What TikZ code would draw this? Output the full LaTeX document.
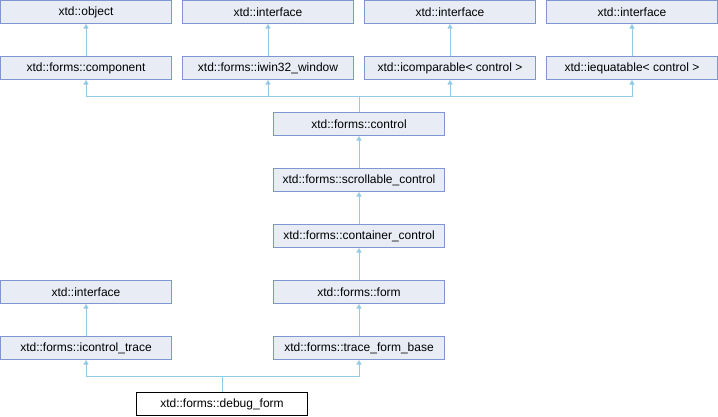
\documentclass[tikz,border=0pt]{standalone}
\usepackage{fontspec}
\setmainfont{Liberation Sans}
\usetikzlibrary{arrows.meta}
\definecolor{boxfill}{RGB}{232,236,245}
\definecolor{boxline}{RGB}{128,150,208}
\definecolor{linkcol}{RGB}{145,203,232}
\tikzset{
  cls/.style={draw=boxline, fill=boxfill, line width=1pt, minimum width=171pt, minimum height=23pt, inner sep=0pt, font=\fontsize{12}{14}\selectfont},
  curcls/.style={cls, draw=black, fill=white},
  link/.style={draw=linkcol, line width=1pt, -{Triangle[width=5pt,length=4.5pt]}},
}
\begin{document}
\begin{tikzpicture}[x=1pt,y=1pt]
\useasboundingbox (0,0) rectangle (718,-416);
% row 1
\node[cls] (obj)  at (86,-12)  {xtd::object};
\node[cls] (if1)  at (268,-12) {xtd::interface};
\node[cls] (if2)  at (450,-12) {xtd::interface};
\node[cls] (if3)  at (632,-12) {xtd::interface};
% row 2
\node[cls] (comp) at (86,-68)  {xtd::forms::component};
\node[cls] (iwin) at (268,-68) {xtd::forms::iwin32\_window};
\node[cls] (icmp) at (450,-68) {xtd::icomparable< control >};
\node[cls] (ieq)  at (632,-68) {xtd::iequatable< control >};
% chain
\node[cls] (ctrl) at (359,-124) {xtd::forms::control};
\node[cls] (scrl) at (359,-180) {xtd::forms::scrollable\_control};
\node[cls] (cont) at (359,-236) {xtd::forms::container\_control};
\node[cls] (form) at (359,-292) {xtd::forms::form};
\node[cls] (tfb)  at (359,-348) {xtd::forms::trace\_form\_base};
\node[cls] (if4)  at (86,-292)  {xtd::interface};
\node[cls] (ict)  at (86,-348)  {xtd::forms::icontrol\_trace};
\node[curcls] (dbg) at (222,-404) {xtd::forms::debug\_form};
% junctions
\coordinate (j1) at (359,-96);
\coordinate (j2) at (222,-376);
% edges
\draw[link] (comp.north) -- (obj.south);
\draw[link] (iwin.north) -- (if1.south);
\draw[link] (icmp.north) -- (if2.south);
\draw[link] (ieq.north)  -- (if3.south);
\draw[link] (ctrl.north) -- (j1) -| (comp.south);
\draw[link] (ctrl.north) -- (j1) -| (iwin.south);
\draw[link] (ctrl.north) -- (j1) -| (icmp.south);
\draw[link] (ctrl.north) -- (j1) -| (ieq.south);
\draw[link] (scrl.north) -- (ctrl.south);
\draw[link] (cont.north) -- (scrl.south);
\draw[link] (form.north) -- (cont.south);
\draw[link] (tfb.north)  -- (form.south);
\draw[link] (ict.north)  -- (if4.south);
\draw[link] (dbg.north) -- (j2) -| (ict.south);
\draw[link] (dbg.north) -- (j2) -| (tfb.south);
\end{tikzpicture}
\end{document}
